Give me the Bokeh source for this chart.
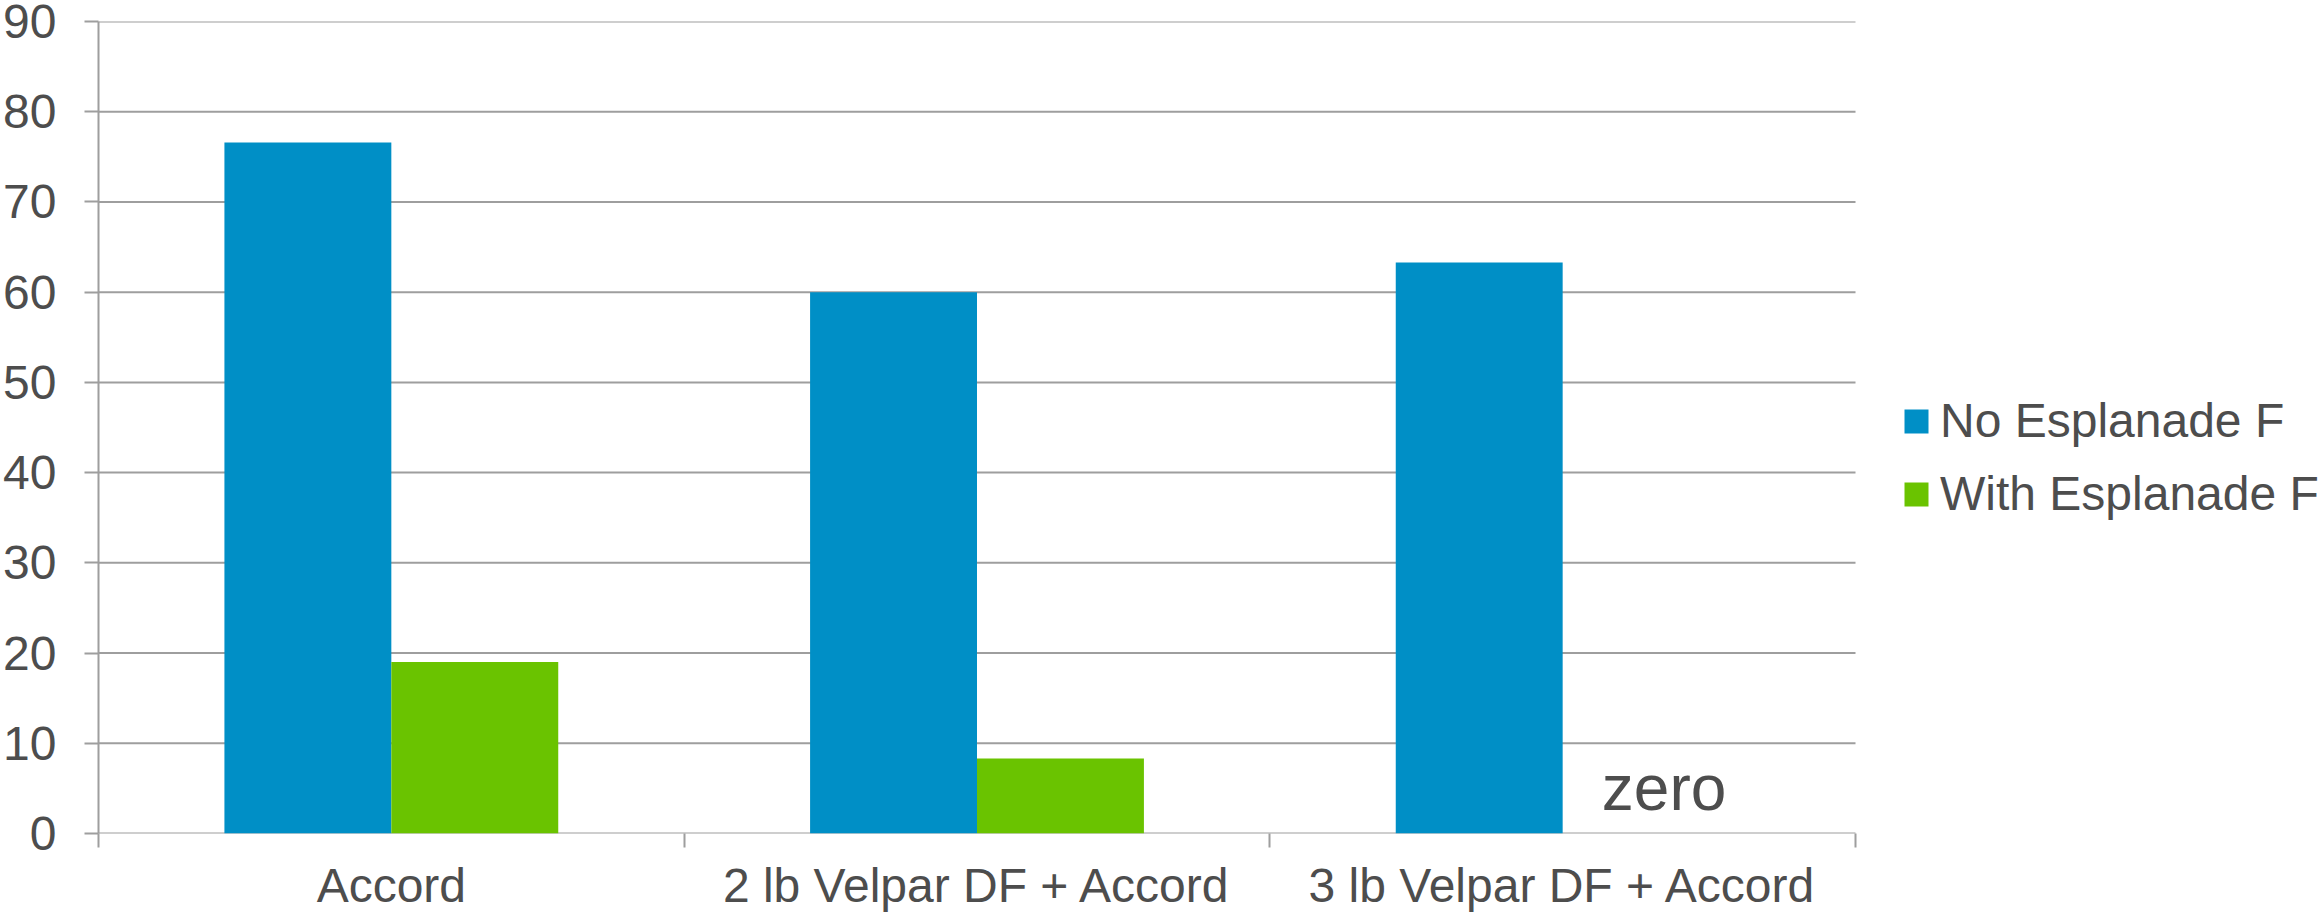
import numpy as np
from bokeh.plotting import figure
from bokeh.models import Range1d, FixedTicker, Legend, LegendItem, ColumnDataSource
from bokeh.embed import file_html
from bokeh.resources import INLINE
from bokeh.core.properties import value

# ---- data ----
categories = ["Accord", "2 lb Velpar DF + Accord", "3 lb Velpar DF + Accord"]
series_names = ["No Esplanade F", "With Esplanade F"]
no_esplanade = [76.6, 60.0, 63.3]
with_esplanade = [19.0, 8.3, 0.0]
y_ticks = [0, 10, 20, 30, 40, 50, 60, 70, 80, 90]
zero_note = "zero"
zero_note_category = 2

# ---- style / layout ----
FONT = "Liberation Sans"
TEXT = "#4d4d4d"
GRID = "#9e9e9e"
BLUE = "#008fc6"
GREEN = "#6ac300"
BAR_W = 0.285
W, H = 2320, 914
LEFT, TOP, BOTTOM = 98, 21, 81
PLOT_RIGHT = 1855          # right end of the drawn plot area (px)

n = len(categories)
centers = np.arange(n) + 0.5
# the frame spans to the canvas edge so the legend can sit inside it
x_end = n * (W - LEFT) / (PLOT_RIGHT - LEFT)

p = figure(width=W, height=H, output_backend="svg", toolbar_location=None,
           x_range=Range1d(0, x_end), y_range=Range1d(y_ticks[0], y_ticks[-1]),
           min_border_left=LEFT, min_border_right=0, min_border_top=TOP,
           min_border_bottom=BOTTOM)
p.outline_line_color = None
p.background_fill_color = "white"
p.border_fill_color = "white"
p.xgrid.grid_line_color = None
p.ygrid.grid_line_color = None

# horizontal gridlines across the category area only
p.segment(x0=[0] * len(y_ticks), x1=[n] * len(y_ticks), y0=y_ticks, y1=y_ticks,
          line_color=GRID, line_width=2)

src_a = ColumnDataSource(dict(x=centers - BAR_W / 2, top=no_esplanade))
src_b = ColumnDataSource(dict(x=centers + BAR_W / 2, top=with_esplanade))
r1 = p.vbar(x="x", top="top", width=BAR_W, bottom=0, source=src_a,
            fill_color=BLUE, line_color=None)
r2 = p.vbar(x="x", top="top", width=BAR_W, bottom=0, source=src_b,
            fill_color=GREEN, line_color=None)

# "zero" note above the empty bar
p.text(x=[zero_note_category + 0.5 + BAR_W / 2], y=[5.0], text=[zero_note],
       text_font=value(FONT), text_font_size="64px", text_color=TEXT,
       text_align="center", text_baseline="alphabetic", x_offset=18)

# x axis: labels at category centres, ticks at category boundaries
xa = p.xaxis[0]
xa.ticker = FixedTicker(ticks=list(centers), minor_ticks=list(range(n + 1)))
xa.major_label_overrides = {float(c): lab for c, lab in zip(centers, categories)}
xa.major_tick_out = 0
xa.major_tick_in = 0
xa.minor_tick_out = 0
xa.minor_tick_in = -14      # draws the boundary ticks outward
xa.minor_tick_line_color = GRID
xa.minor_tick_line_width = 2
xa.axis_line_color = None
xa.major_label_text_font = FONT
xa.major_label_text_font_size = "48px"
xa.major_label_text_line_height = 1.0
xa.major_label_text_color = TEXT
xa.major_label_standoff = 25

ya = p.yaxis[0]
ya.ticker = FixedTicker(ticks=y_ticks, minor_ticks=[])
ya.major_tick_out = 14
ya.major_tick_in = 0
ya.major_tick_line_color = GRID
ya.major_tick_line_width = 2
ya.axis_line_color = GRID
ya.axis_line_width = 2
ya.major_label_text_font = FONT
ya.major_label_text_font_size = "48px"
ya.major_label_text_color = TEXT
ya.major_label_standoff = 28

legend = Legend(items=[LegendItem(label=series_names[0], renderers=[r1]),
                       LegendItem(label=series_names[1], renderers=[r2])],
                location=(1803, 312), orientation="vertical",
                label_text_font=FONT, label_text_font_size="48px",
                label_text_color=TEXT, glyph_width=30, glyph_height=30,
                label_standoff=9, spacing=18, padding=0, margin=0,
                border_line_color=None, background_fill_alpha=0)
p.add_layout(legend, "center")

open("out.html", "w").write(file_html(p, INLINE))
